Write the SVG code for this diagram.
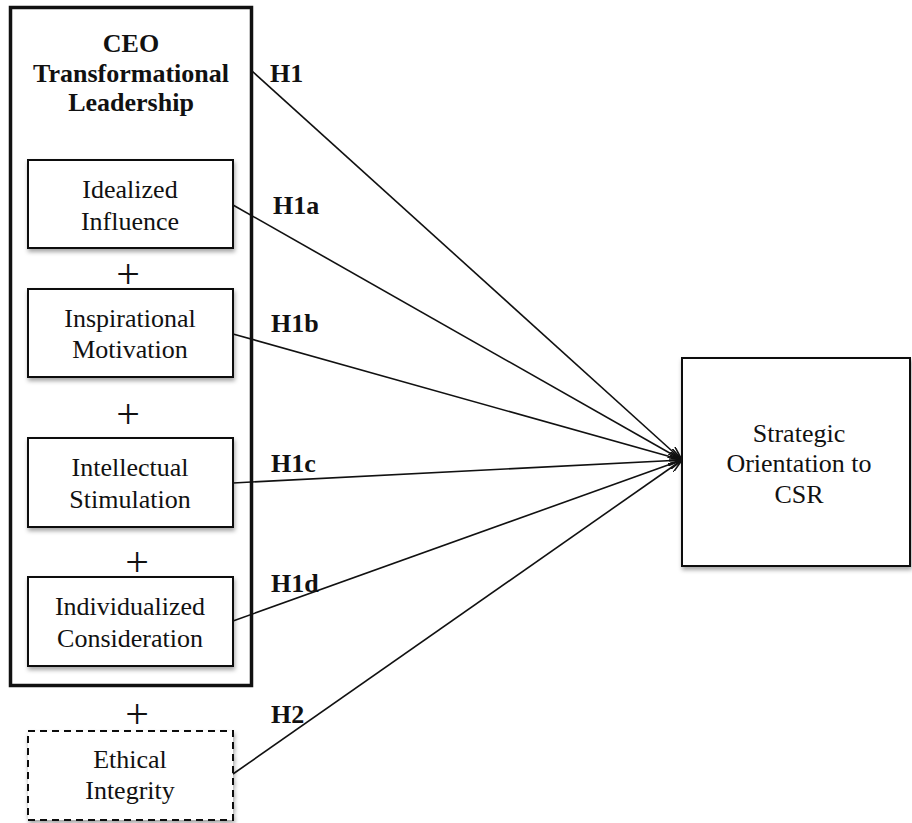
<svg xmlns="http://www.w3.org/2000/svg" width="912" height="823" viewBox="0 0 912 823">
<style>
.t{font-family:"Liberation Serif","Times New Roman",serif;font-size:26px;fill:#111;text-anchor:middle}
.b{font-family:"Liberation Serif","Times New Roman",serif;font-size:26px;font-weight:bold;fill:#111;text-anchor:middle}
.h{font-family:"Liberation Serif","Times New Roman",serif;font-size:26px;font-weight:bold;fill:#111}
.p{font-family:"Liberation Serif","Times New Roman",serif;font-size:42px;fill:#111;text-anchor:middle}
.box{fill:#fff;stroke:#111;stroke-width:2;filter:url(#sh)}
.dash{fill:#fff;stroke:#111;stroke-width:2;stroke-dasharray:7 5;filter:url(#sh)}
.c{fill:none;stroke:#111;stroke-width:1.6;marker-end:url(#arr)}
</style>
<defs>
<filter id="sh" x="-10%" y="-10%" width="130%" height="130%">
<feDropShadow dx="1" dy="3" stdDeviation="2" flood-color="#000" flood-opacity="0.35"/>
</filter>
<marker id="arr" viewBox="0 0 14 10" refX="14" refY="5" markerWidth="14" markerHeight="10" markerUnits="userSpaceOnUse" orient="auto">
<path d="M0,0 L14,5 L0,10" fill="none" stroke="#111" stroke-width="1.6"/>
</marker>
</defs>
<rect width="912" height="823" fill="#fff"/>
<g id="ceo-tl">
<rect x="10.5" y="7.5" width="241" height="678" fill="#fff" stroke="#111" stroke-width="3.5"/>
<text class="b" x="131" y="52">CEO</text>
<text class="b" x="131" y="82">Transformational</text>
<text class="b" x="131" y="111">Leadership</text>
</g>
<g id="idealized">
<rect class="box" x="28" y="160" width="205" height="88"/>
<text class="t" x="130" y="198">Idealized</text>
<text class="t" x="130" y="230">Influence</text>
</g>
<g id="inspirational">
<rect class="box" x="28" y="289" width="205" height="88"/>
<text class="t" x="130" y="327">Inspirational</text>
<text class="t" x="130" y="358">Motivation</text>
</g>
<g id="intellectual">
<rect class="box" x="28" y="438" width="205" height="89"/>
<text class="t" x="130" y="476">Intellectual</text>
<text class="t" x="130" y="508">Stimulation</text>
</g>
<g id="individualized">
<rect class="box" x="28" y="577" width="205" height="89"/>
<text class="t" x="130" y="615">Individualized</text>
<text class="t" x="130" y="647">Consideration</text>
</g>
<g id="ethical">
<rect class="dash" x="28" y="731" width="205" height="89"/>
<text class="t" x="130" y="768">Ethical</text>
<text class="t" x="130" y="799">Integrity</text>
</g>
<g id="strategic">
<rect class="box" x="682" y="358" width="228" height="208"/>
<text class="t" x="799" y="442">Strategic</text>
<text class="t" x="799" y="472">Orientation to</text>
<text class="t" x="799" y="503">CSR</text>
</g>
<g id="plus">
<text class="p" x="128" y="288">+</text>
<text class="p" x="128" y="428">+</text>
<text class="p" x="137" y="576">+</text>
<text class="p" x="137" y="728">+</text>
</g>
<g id="connectors">
<line class="c" x1="252" y1="71" x2="682" y2="460"/>
<line class="c" x1="233" y1="205" x2="682" y2="460"/>
<line class="c" x1="233" y1="334" x2="682" y2="460"/>
<line class="c" x1="233" y1="483" x2="682" y2="460"/>
<line class="c" x1="233" y1="621" x2="682" y2="460"/>
<line class="c" x1="233" y1="774" x2="682" y2="460"/>
</g>
<g id="labels">
<text class="h" x="270" y="82">H1</text>
<text class="h" x="273" y="214">H1a</text>
<text class="h" x="271" y="332">H1b</text>
<text class="h" x="271" y="472">H1c</text>
<text class="h" x="271" y="592">H1d</text>
<text class="h" x="271" y="723">H2</text>
</g>
</svg>
